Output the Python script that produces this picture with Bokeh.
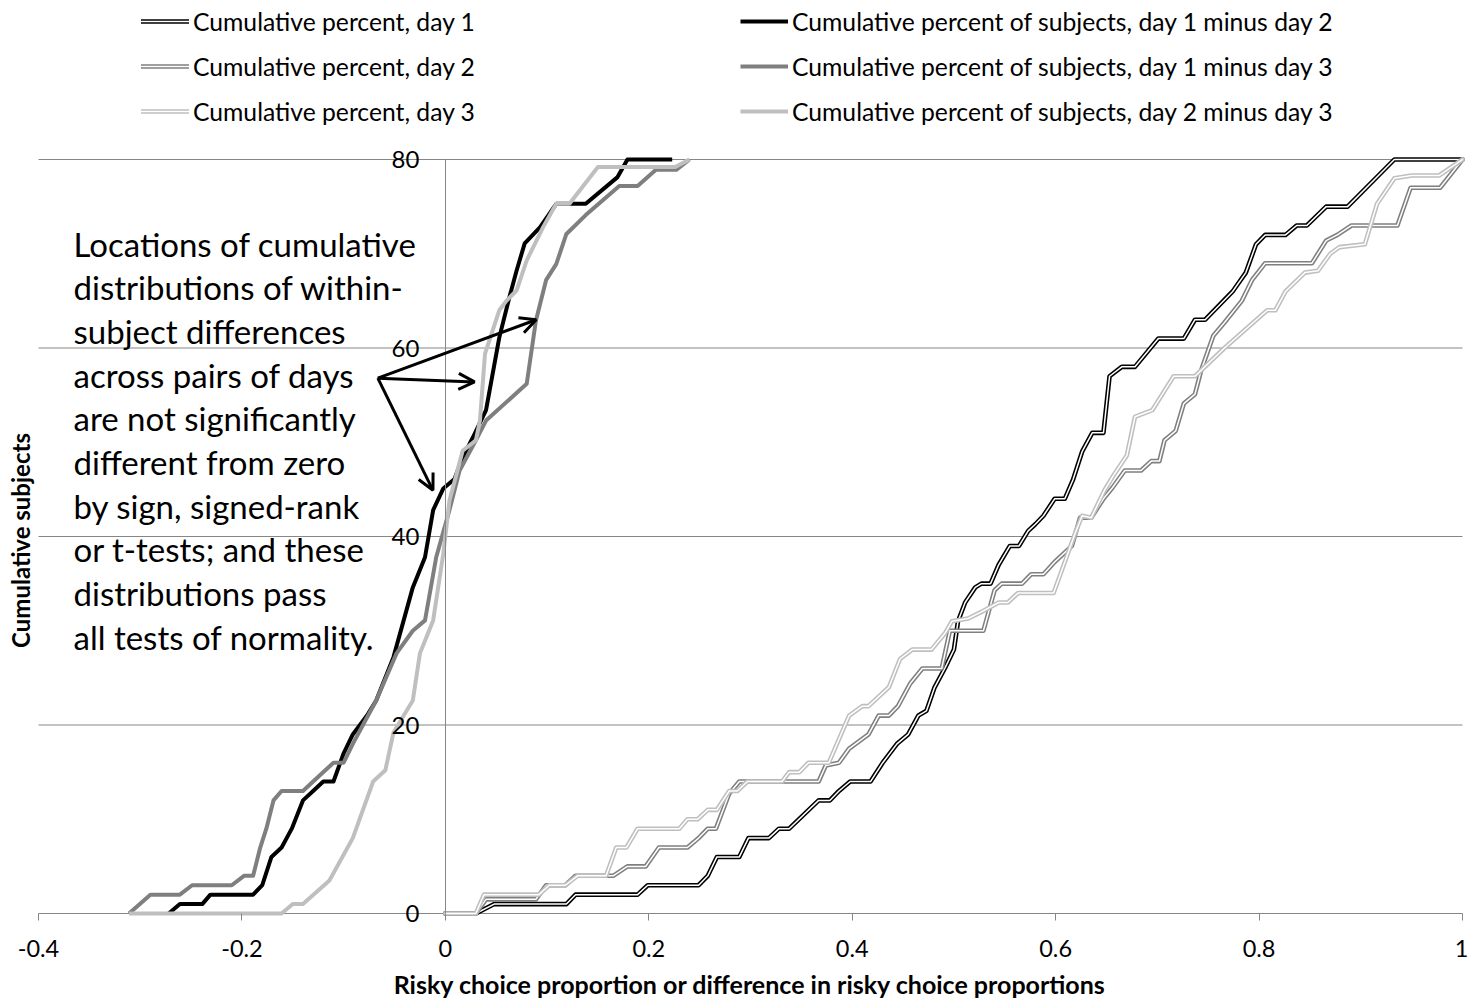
import math
from bokeh.plotting import figure
from bokeh.models import (Range1d, LinearAxis, FixedTicker, Legend, LegendItem,
                          Arrow, OpenHead, Label, LabelSet, ColumnDataSource)
from bokeh.core.properties import value
from bokeh.embed import file_html
from bokeh.resources import INLINE

# ---------------- data ----------------
# cumulative number of subjects vs risky choice proportion, per day
day1 = [(0.000, 0), (0.030, 0), (0.048, 1), (0.119, 1), (0.128, 2), (0.189, 2), (0.199, 3),
        (0.249, 3), (0.258, 4), (0.267, 6), (0.289, 6), (0.298, 8), (0.318, 8), (0.328, 9),
        (0.338, 9), (0.367, 12), (0.378, 12), (0.387, 13), (0.398, 14), (0.418, 14),
        (0.430, 16), (0.444, 18), (0.455, 19), (0.465, 21), (0.473, 21.5), (0.481, 24),
        (0.491, 26), (0.500, 28), (0.504, 31), (0.511, 33), (0.521, 34.6), (0.527, 35),
        (0.536, 35), (0.544, 37), (0.555, 39), (0.564, 39), (0.573, 40.6), (0.580, 41.3),
        (0.588, 42.2), (0.599, 44), (0.609, 44), (0.617, 46), (0.626, 49), (0.636, 51),
        (0.647, 51), (0.653, 57), (0.665, 58), (0.678, 58), (0.701, 61), (0.726, 61),
        (0.737, 63), (0.747, 63), (0.774, 66), (0.787, 68), (0.797, 71), (0.806, 72),
        (0.826, 72), (0.837, 73), (0.847, 73), (0.866, 75), (0.887, 75), (0.933, 80),
        (1.000, 80)]
day2 = [(0.000, 0), (0.030, 0), (0.040, 1.5), (0.089, 1.5), (0.099, 3), (0.118, 3),
        (0.128, 4), (0.165, 4), (0.179, 5), (0.197, 5), (0.210, 7), (0.238, 7), (0.249, 8),
        (0.258, 9), (0.266, 9), (0.279, 12.7), (0.289, 14), (0.367, 14), (0.374, 15.7),
        (0.387, 16), (0.397, 17.5), (0.416, 19), (0.426, 21), (0.436, 21), (0.445, 22),
        (0.457, 24.4), (0.469, 26), (0.488, 26), (0.496, 30), (0.529, 30), (0.540, 34.3),
        (0.547, 35), (0.567, 35), (0.576, 36), (0.588, 36), (0.599, 37.3), (0.616, 39),
        (0.624, 42), (0.635, 42), (0.647, 44), (0.656, 45.2), (0.668, 47), (0.684, 47),
        (0.694, 48), (0.702, 48), (0.707, 50.2), (0.718, 51.2), (0.726, 54.1), (0.737, 55.1),
        (0.743, 57.6), (0.755, 61.3), (0.766, 62.7), (0.783, 65), (0.793, 67.2), (0.806, 69),
        (0.852, 69), (0.866, 71.4), (0.877, 72), (0.891, 73), (0.936, 73), (0.949, 77),
        (0.978, 77), (1.000, 80)]
day3 = [(0.000, 0), (0.030, 0), (0.038, 2), (0.092, 2), (0.102, 3), (0.118, 3), (0.130, 4),
        (0.158, 4), (0.168, 7), (0.178, 7), (0.189, 9), (0.230, 9), (0.238, 10), (0.248, 10),
        (0.258, 11), (0.267, 11), (0.279, 13), (0.287, 13), (0.297, 14), (0.331, 14),
        (0.338, 15), (0.348, 15), (0.357, 16), (0.377, 16), (0.383, 17.5), (0.397, 21),
        (0.410, 22), (0.416, 22), (0.436, 24), (0.447, 27), (0.459, 28), (0.478, 28),
        (0.491, 29.7), (0.498, 31), (0.514, 31.3), (0.527, 32), (0.544, 33), (0.553, 33),
        (0.563, 34), (0.598, 34), (0.606, 36.4), (0.619, 40.3), (0.626, 42.2), (0.635, 42),
        (0.648, 44.9), (0.657, 46.5), (0.670, 48.6), (0.678, 52.7), (0.695, 53.4),
        (0.716, 57), (0.737, 57), (0.766, 60), (0.808, 64), (0.816, 64), (0.826, 66),
        (0.845, 68), (0.858, 68.2), (0.870, 70), (0.879, 70.7), (0.904, 71), (0.916, 75.3),
        (0.933, 78), (0.950, 78.3), (0.977, 78.3), (1.000, 80)]

# cumulative number of subjects vs within-subject difference
diff12 = [(-0.272, 0), (-0.261, 1), (-0.239, 1), (-0.231, 2), (-0.189, 2), (-0.180, 3),
          (-0.171, 6), (-0.161, 7), (-0.151, 9), (-0.140, 12), (-0.130, 13), (-0.120, 14),
          (-0.110, 14), (-0.100, 17), (-0.091, 19), (-0.077, 21), (-0.068, 22.6),
          (-0.051, 27.2), (-0.032, 34.6), (-0.020, 37.8), (-0.012, 42.8), (-0.002, 45.1),
          (0.009, 46.1), (0.017, 48.4), (0.027, 50.5), (0.040, 53.4), (0.053, 61.1),
          (0.063, 65.4), (0.070, 68.2), (0.078, 71.1), (0.093, 72.8), (0.109, 75.3),
          (0.138, 75.3), (0.169, 78.1), (0.179, 80), (0.223, 80)]
diff13 = [(-0.311, 0), (-0.290, 2), (-0.261, 2), (-0.249, 3), (-0.210, 3), (-0.198, 4),
          (-0.189, 4), (-0.182, 7), (-0.176, 9), (-0.169, 12), (-0.161, 13), (-0.140, 13),
          (-0.130, 14), (-0.110, 16), (-0.100, 16), (-0.091, 18), (-0.081, 20),
          (-0.068, 22.6), (-0.048, 27.6), (-0.032, 30), (-0.020, 31.1), (-0.009, 37.8),
          (0.004, 42.8), (0.014, 47), (0.030, 50.2), (0.040, 52.3), (0.080, 56.2),
          (0.089, 62.9), (0.099, 67.2), (0.109, 68.9), (0.119, 72.1), (0.138, 74.1),
          (0.171, 77.2), (0.189, 77.2), (0.207, 78.9), (0.227, 78.9), (0.240, 80)]
diff23 = [(-0.311, 0), (-0.161, 0), (-0.150, 1), (-0.140, 1), (-0.114, 3.5), (-0.091, 8),
          (-0.071, 14), (-0.059, 15.2), (-0.051, 19.2), (-0.032, 22.6), (-0.025, 27.6),
          (-0.012, 31.1), (-0.002, 38.2), (0.004, 43.8), (0.017, 49.1), (0.030, 50.2),
          (0.034, 52.3), (0.039, 59.4), (0.053, 64), (0.060, 65), (0.070, 66.1),
          (0.080, 69.3), (0.096, 72.8), (0.109, 75.3), (0.122, 75.3), (0.150, 79.2),
          (0.226, 79.2), (0.240, 80)]

x_ticks = [-0.4, -0.2, 0, 0.2, 0.4, 0.6, 0.8, 1.0]
x_tick_labels = ["-0.4", "-0.2", "0", "0.2", "0.4", "0.6", "0.8", "1"]
y_ticks = [0, 20, 40, 60, 80]
y_tick_labels = ["0", "20", "40", "60", "80"]

legend_left = ["Cumulative percent, day 1", "Cumulative percent, day 2",
               "Cumulative percent, day 3"]
legend_right = ["Cumulative percent of subjects, day 1 minus day 2",
                "Cumulative percent of subjects, day 1 minus day 3",
                "Cumulative percent of subjects, day 2 minus day 3"]
note_lines = ["Locations of cumulative", "distributions of within-", "subject differences",
              "across pairs of days", "are not significantly", "different from zero",
              "by sign, signed-rank", "or t-tests; and these", "distributions pass",
              "all tests of normality."]
y_title = "Cumulative subjects"
x_title = "Risky choice proportion or difference in risky choice proportions"

BLACK, GRAY, LIGHT = "#000000", "#7f7f7f", "#bfbfbf"
GRID = "#868686"
FONT = "Lato"

# ---------------- layout geometry (pixels) ----------------
X_MIN, X_MAX = -0.4, 1.0
PXX = 1424 / (X_MAX - X_MIN)    # px per x unit
XL_PX = 38                      # page x of x = -0.4
FRAME_W = 1468
PX_PER_UNIT = 754 / 80          # 0..80 spans 754 px
Y80_PX = 159                    # page y of the 80 line
BOTTOM_PAD = 10                 # frame reaches a little below y = 0 so "0" is not cut
FRAME_H = Y80_PX + 754 + BOTTOM_PAD
x_lo = X_MIN - XL_PX / PXX
x_hi = x_lo + FRAME_W / PXX
y_hi = 80 + Y80_PX / PX_PER_UNIT
y_lo = -BOTTOM_PAD / PX_PER_UNIT

p = figure(frame_width=FRAME_W, frame_height=FRAME_H,
           x_range=Range1d(x_lo, x_hi), y_range=Range1d(y_lo, y_hi),
           output_backend="svg", toolbar_location=None,
           min_border_left=0, min_border_right=0, min_border_top=0, min_border_bottom=0)
p.outline_line_color = None
p.background_fill_color = "white"

# horizontal gridlines spanning only -0.4 .. 1 (the 0 line doubles as the x axis line)
p.xgrid.visible = False
p.ygrid.visible = False
p.segment(x0=[X_MIN] * len(y_ticks), y0=y_ticks, x1=[X_MAX] * len(y_ticks), y1=y_ticks,
          line_color=GRID, line_width=1)

# x axis: ticks hang 7 px below the 0 line
xa = p.xaxis[0]
xa.ticker = FixedTicker(ticks=x_ticks)
xa.major_label_overrides = {t: l for t, l in zip(x_ticks, x_tick_labels)}
xa.axis_line_color = None
xa.major_tick_line_color = GRID
xa.major_tick_in = BOTTOM_PAD
xa.major_tick_out = 7 - BOTTOM_PAD
xa.minor_tick_line_color = None
xa.minor_tick_out = 0
xa.major_label_text_font = FONT
xa.major_label_text_font_size = "23.5px"
xa.major_label_text_color = "black"
xa.major_label_standoff = 16
# leading em + en space: centres the visible title on the -0.4..1 span, not the wider frame
xa.axis_label = "\u2003\u2002" + x_title
xa.axis_label_text_font = FONT
xa.axis_label_text_font_style = "bold"
xa.axis_label_text_font_size = "25px"
xa.axis_label_text_color = "black"
xa.axis_label_standoff = 9

p.yaxis[0].visible = False

# vertical axis line crossing at x = 0
y0 = LinearAxis(fixed_location=0, ticker=FixedTicker(ticks=[]), bounds=(0, 80),
                axis_line_color=GRID, major_tick_out=0, major_tick_in=0,
                minor_tick_line_color=None)
p.add_layout(y0, "left")
ytick_src = ColumnDataSource(dict(y=y_ticks, text=y_tick_labels))
p.add_layout(LabelSet(x=0, y="y", text="text", source=ytick_src, x_offset=-26,
                      text_align="right", text_baseline="middle",
                      text_font=value(FONT), text_font_size="24px", text_color="black"))

# y axis title, rotated, centred on the 0..80 span
p.add_layout(Label(x=20, y=FRAME_H - 540, x_units="screen", y_units="screen",
                   text=y_title, angle=math.pi / 2, text_align="center",
                   text_baseline="middle", text_font=FONT, text_font_style="bold",
                   text_font_size="24px", text_color="black"))


def xs(pts):
    return [a for a, _ in pts]


def ys(pts):
    return [b for _, b in pts]


def double_line(pts, color):
    outer = p.line(xs(pts), ys(pts), line_color=color, line_width=4.6,
                   line_join="round", line_cap="round")
    inner = p.line(xs(pts), ys(pts), line_color="white", line_width=1.5,
                   line_join="round", line_cap="round")
    return [outer, inner]


def thick_line(pts, color):
    return [p.line(xs(pts), ys(pts), line_color=color, line_width=4, line_join="round")]


r_day1 = double_line(day1, BLACK)
r_day2 = double_line(day2, GRAY)
r_day3 = double_line(day3, LIGHT)
r_d12 = thick_line(diff12, BLACK)
r_d13 = thick_line(diff13, GRAY)
r_d23 = thick_line(diff23, LIGHT)

ITEM_H = 30
SPACING = 15
LEG_BOTTOM = 126                 # page y of legend bottom edge
LEG_Y = FRAME_H - LEG_BOTTOM     # measured up from frame bottom


def make_legend(labels, renderers, x_loc):
    lg = Legend(items=[LegendItem(label=l, renderers=r) for l, r in zip(labels, renderers)],
                location=(x_loc, LEG_Y), orientation="vertical",
                padding=0, margin=0, spacing=SPACING, glyph_width=48, glyph_height=ITEM_H,
                label_height=ITEM_H, label_standoff=4, border_line_color=None,
                background_fill_alpha=0, label_text_font=FONT,
                label_text_font_size="24.7px", label_text_color="black")
    p.add_layout(lg, "center")


make_legend(legend_left, [r_day1, r_day2, r_day3], 141)
make_legend(legend_right, [r_d12, r_d13, r_d23], 740)

# annotation text
for i, line in enumerate(note_lines):
    p.add_layout(Label(x=73, y=FRAME_H - (243 + 43.67 * i), x_units="screen", y_units="screen",
                       text=line, text_font=FONT, text_font_size="33px",
                       text_color="black", text_baseline="middle", text_align="left"))

# arrows (start near the end of the text, pointing at the three difference curves)
ax0, ay0 = -0.0664, 56.8
for ex, ey in [(0.0893, 63.0), (0.0287, 56.4), (-0.0122, 44.9)]:
    p.add_layout(Arrow(end=OpenHead(size=16, line_width=3, line_color="black"),
                       x_start=ax0, y_start=ay0, x_end=ex, y_end=ey,
                       line_width=3, line_color="black"))

open("out.html", "w").write(file_html(p, INLINE))
